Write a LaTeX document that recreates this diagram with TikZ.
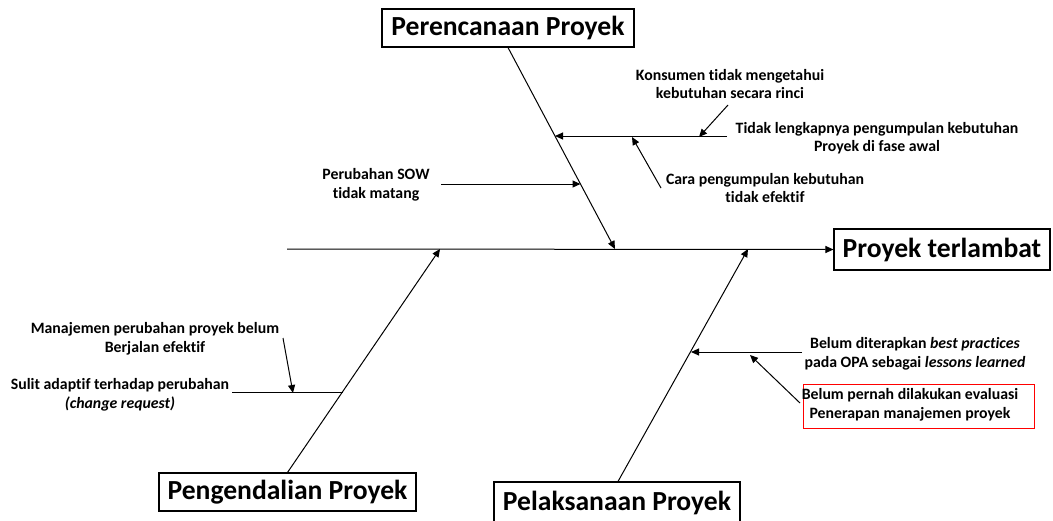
\documentclass[tikz,border=0pt]{standalone}
\usepackage{fontspec}
\setmainfont[Ligatures={NoCommon,NoRare}]{Carlito}
\usetikzlibrary{arrows.meta,calc}
\begin{document}
\begin{tikzpicture}[x=1pt,y=-1pt,
 big/.style={draw,line width=1.1pt,font=\bfseries\fontsize{27.6}{32}\selectfont,inner sep=0pt},
 lbl/.style={font=\bfseries\fontsize{15.8}{18.6}\selectfont,align=center,inner sep=0pt},
 ln/.style={line width=1pt},
 arr/.style={ln,-{Triangle[length=8pt,width=7pt]}}]
\useasboundingbox (0,0) rectangle (1053,520);
\clip (0,0) rectangle (1053,520);
% main boxes
\node[big,minimum width=252pt,minimum height=38pt] (plan) at (508,28) {Perencanaan Proyek};
\node[big,minimum width=216pt,minimum height=41pt] (effect) at (942,249.5) {Proyek terlambat};
\node[big,minimum width=257pt,minimum height=38pt] (ctrl) at (287.5,492) {Pengendalian Proyek};
\node[big,minimum width=246pt,minimum height=42pt] (exec) at (617,503) {Pelaksanaan Proyek};
% spine
\coordinate (tail) at (287,249);
\draw[arr] (tail) -- (effect.west);
% ribs
\coordinate (r1) at (615,249);
\coordinate (r2) at (440,249);
\coordinate (r3) at (748,249);
\draw[arr] (plan.south) -- (r1);
\draw[arr] (ctrl.north) -- (r2);
\draw[arr] (exec.north-|618,0) -- (r3);
% top causes
\node[lbl] (k1) at (730,84) {Konsumen tidak mengetahui\\kebutuhan secara rinci};
\node[lbl] (k2) at (877,138) {Tidak lengkapnya pengumpulan kebutuhan\\Proyek di fase awal};
\node[lbl] (k3) at (765,188) {Cara pengumpulan kebutuhan\\tidak efektif};
\node[lbl] (k4) at (376,184.5) {Perubahan SOW\\tidak matang};
\coordinate (b1s) at (727,136);
\coordinate (b1e) at (555,136);
\draw[arr] (b1s) -- (b1e);
\coordinate (a1s) at (728,105);
\coordinate (a1e) at (699,137);
\draw[arr] (a1s) -- (a1e);
\coordinate (a2s) at (661,188);
\coordinate (a2e) at (632,137);
\draw[arr] (a2s) -- (a2e);
\coordinate (b2s) at (441,184);
\coordinate (b2e) at (580.5,184);
\draw[arr] (b2s) -- (b2e);
% lower left causes
\node[lbl] (m1) at (155,338.5) {Manajemen perubahan proyek belum\\Berjalan efektif};
\node[lbl] (m2) at (120,395) {Sulit adaptif terhadap perubahan\\\textit{(change request)}};
\coordinate (c1s) at (232,392);
\coordinate (c1e) at (343,392);
\draw[ln] (c1s) -- (c1e);
\coordinate (a3s) at (283,338);
\coordinate (a3e) at (293,393);
\draw[arr] (a3s) -- (a3e);
% lower right causes
\node[lbl] (p1) at (915,354) {Belum diterapkan \textit{best practices}\\pada OPA sebagai \textit{lessons learned}};
\node[draw=red,line width=0.8pt,minimum width=231pt,minimum height=44pt,inner sep=0pt] (p2box) at (918.5,406) {};
\node[lbl] (p2) at (910,404.5) {Belum pernah dilakukan evaluasi\\Penerapan manajemen proyek};
\coordinate (d1s) at (802,352);
\coordinate (d1e) at (691,352);
\draw[arr] (d1s) -- (d1e);
\coordinate (a4s) at (800,403);
\coordinate (a4e) at (750,355);
\draw[arr] (a4s) -- (a4e);
\end{tikzpicture}
\end{document}
